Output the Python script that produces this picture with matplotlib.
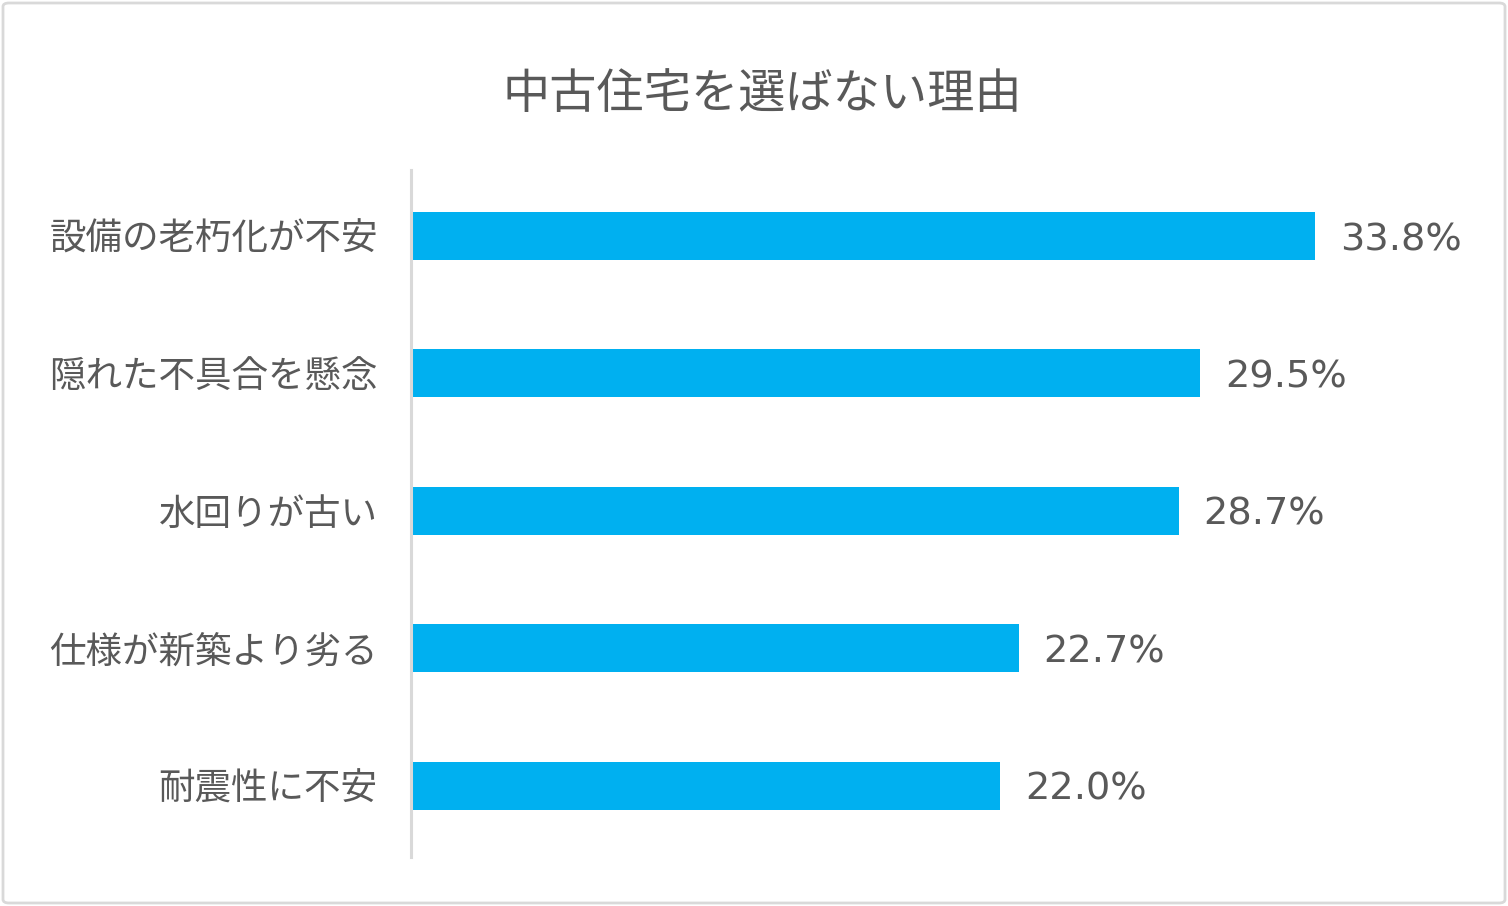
import matplotlib
matplotlib.use("Agg")
import matplotlib.pyplot as plt
from matplotlib.patches import FancyBboxPatch

plt.rcParams['font.family'] = ['Noto Sans CJK JP', 'DejaVu Sans']

title = "中古住宅を選ばない理由"
categories = ["設備の老朽化が不安", "隠れた不具合を懸念", "水回りが古い", "仕様が新築より劣る", "耐震性に不安"]
values = [33.8, 29.5, 28.7, 22.7, 22.0]
value_labels = ["33.8%", "29.5%", "28.7%", "22.7%", "22.0%"]

W, H = 1508, 906
fig = plt.figure(figsize=(W / 100, H / 100), dpi=100)
fig.patch.set_facecolor("white")

# outer border
fig.patches.append(FancyBboxPatch((3 / W, 3 / H), 1 - 6 / W, 1 - 6 / H,
                                  boxstyle="round,pad=0,rounding_size=0.004",
                                  transform=fig.transFigure, fill=False,
                                  edgecolor="#D9D9D9", linewidth=2))

left, right, top, bottom = 411, 1480, 170, 857
ax = fig.add_axes([left / W, (H - bottom) / H, (right - left) / W, (bottom - top) / H])
ypos = list(range(len(categories)))
ax.barh(ypos, values, height=0.35, color="#00B0F0", left=0)
ax.set_ylim(len(categories) - 0.48, -0.48)
ax.set_xlim(-0.08, 40)
ax.set_yticks(ypos)
ax.set_yticklabels(categories)
ax.tick_params(axis="y", length=0, pad=24, labelsize=26.3, labelcolor="#595959")
ax.set_xticks([])
for s in ["top", "right", "bottom"]:
    ax.spines[s].set_visible(False)
ax.spines["left"].set_color("#D9D9D9")
ax.spines["left"].set_linewidth(2.2)
ax.spines["left"].set_position(("data", -0.08))

for y, v, lab in zip(ypos, values, value_labels):
    ax.annotate(lab, (v, y), xytext=(18, -3), textcoords="offset points",
                va="center", ha="left", fontsize=27.5, color="#595959",
                family="DejaVu Sans")

fig.text(762 / W, 1 - 95 / H, title, ha="center", va="center", fontsize=34, color="#595959")

fig.savefig("out.png", dpi=100, facecolor="white")
